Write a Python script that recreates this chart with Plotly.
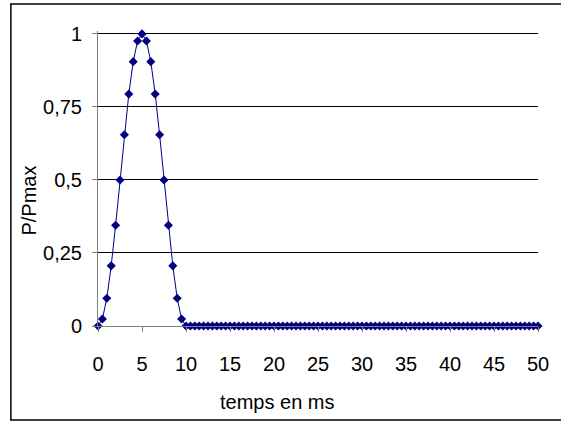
import numpy as np
import plotly.graph_objects as go

# time axis in ms, one sample every 0.5 ms
temps = np.arange(0, 50.5, 0.5)

# normalised power
pulse = [0.0, 0.024, 0.095, 0.206, 0.345, 0.5, 0.655, 0.794, 0.905, 0.976,
         1.0, 0.976, 0.905, 0.794, 0.655, 0.5, 0.345, 0.206, 0.095, 0.024,
         0.0]
tail = [0.0] * 80
p_pmax = pulse + tail

y_ticks = [0, 0.25, 0.5, 0.75, 1]
y_labels = ["0", "0,25", "0,5", "0,75", "1"]
x_ticks = list(range(0, 55, 5))

font = dict(family="Liberation Sans, Arial, sans-serif", size=20, color="black")

fig = go.Figure()
fig.add_trace(
    go.Scatter(
        x=temps,
        y=p_pmax,
        mode="lines+markers",
        line=dict(color="#000080", width=1),
        marker=dict(symbol="diamond", size=7, color="#000080"),
        cliponaxis=False,
        showlegend=False,
    )
)

fig.update_layout(
    width=561,
    height=421,
    margin=dict(l=98, r=21, t=31, b=95),
    paper_bgcolor="white",
    plot_bgcolor="white",
    font=font,
    shapes=[
        # outer chart frame
        dict(type="rect", xref="paper", yref="paper",
             x0=-0.198, x1=1.2, y0=-0.3186, y1=1.0915,
             line=dict(color="black", width=1.5), layer="below"),
    ],
    # axis titles sit centred on the chart frame, like Excel does
    annotations=[
        dict(text="temps en ms", xref="paper", yref="paper",
             x=0.406, y=-0.258, showarrow=False,
             xanchor="center", yanchor="middle"),
        dict(text="P/Pmax", xref="paper", yref="paper",
             x=-0.157, y=0.425, textangle=-90, showarrow=False,
             xanchor="center", yanchor="middle"),
    ],
)

fig.update_xaxes(
    range=[0, 50],
    tickvals=x_ticks,
    ticks="outside",
    ticklen=5,
    tickcolor="#808080",
    showline=True,
    linecolor="#808080",
    linewidth=1,
    showgrid=False,
    zeroline=False,
    ticklabelstandoff=15,
)
fig.update_yaxes(
    range=[0, 1.01],
    tickvals=y_ticks,
    ticktext=y_labels,
    ticks="outside",
    ticklen=5,
    tickcolor="#808080",
    showline=True,
    linecolor="#808080",
    linewidth=1,
    showgrid=True,
    gridcolor="black",
    gridwidth=1,
    zeroline=False,
    ticklabelstandoff=6,
)

# drop the default page margin so the chart sits at the window corner
fig.write_html(
    "out.html",
    config={"displayModeBar": False},
    post_script="document.body.style.margin='0';",
)
